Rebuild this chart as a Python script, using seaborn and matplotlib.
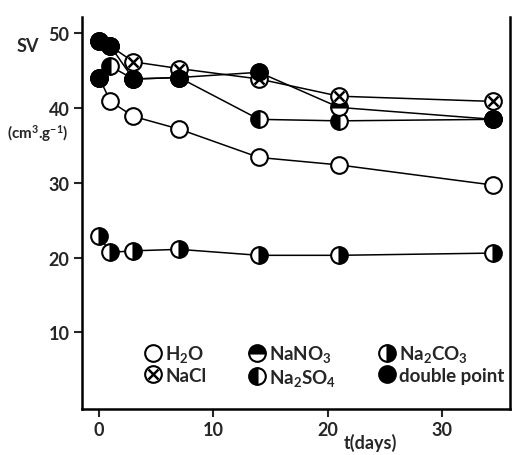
import matplotlib
matplotlib.use("Agg")
import matplotlib.pyplot as plt
import seaborn as sns
from matplotlib.lines import Line2D

# sampling days (last one is drawn a little short of 35)
days = [0, 1, 3, 7, 14, 21, 34.5]

# specific volume SV (cm3/g) per solution
sv_h2o = [44.1, 40.9, 38.9, 37.2, 33.4, 32.4, 29.7]
sv_nacl = [49.0, 48.3, 46.2, 45.3, 43.9, 41.6, 40.9]
sv_nano3 = [49.0, 48.3, 43.9, 44.1, 44.8, 40.1, 38.5]
sv_na2so4 = [44.1, 45.6, 43.9, 44.1, 38.5, 38.3, 38.5]
sv_na2co3 = [22.9, 20.7, 20.9, 21.1, 20.3, 20.3, 20.6]

# coinciding points, drawn solid
double_days = [0, 1, 0, 3, 7, 14, 34.5]
double_sv = [49.0, 48.3, 44.1, 43.9, 44.1, 44.8, 38.5]

x_ticks = [0, 10, 20, 30]
y_ticks = [10, 20, 30, 40, 50]

sns.set_theme(style="ticks")
plt.rcParams["font.family"] = ["Lato", "DejaVu Sans"]
plt.rcParams["font.weight"] = "bold"
plt.rcParams["mathtext.default"] = "regular"

fig = plt.figure(figsize=(5.14, 4.56), dpi=100)
ax = fig.add_axes([82 / 514, 1 - 410 / 456, 428 / 514, 392 / 456])

MS = 12
MEW = 1.5
LW = 1.1


def draw_series(vals, fill, face):
    sns.lineplot(x=days, y=vals, ax=ax, color="black", lw=LW, marker="o",
                 ms=MS, mew=MEW, mec="black", mfc=face, fillstyle=fill,
                 markerfacecoloralt="white", sort=False, errorbar=None,
                 zorder=3)


draw_series(sv_h2o, "full", "white")
draw_series(sv_na2co3, "right", "black")
draw_series(sv_na2so4, "left", "black")
draw_series(sv_nano3, "top", "black")
draw_series(sv_nacl, "full", "white")
ax.plot(days, sv_nacl, ls="none", marker="x", ms=6.5, mew=1.8,
        color="black", zorder=4)

# double points on top
ax.plot(double_days, double_sv, ls="none", marker="o", ms=MS,
        mfc="black", mec="black", zorder=5)

ax.set_xlim(-1.49, 35.96)
ax.set_ylim(-0.27, 52.2)
ax.set_xticks(x_ticks)
ax.set_yticks(y_ticks)
ax.tick_params(labelsize=13, width=1.5, length=6, pad=3)
for lab in ax.get_xticklabels() + ax.get_yticklabels():
    lab.set_fontweight("bold")

sns.despine(ax=ax, top=True, right=False)
for s in ["left", "bottom", "right"]:
    ax.spines[s].set_linewidth(1.8)
    ax.spines[s].set_color("black")
ax.set_xlabel("")
ax.set_ylabel("")

fig.text(28 / 514, 1 - 46 / 456, "SV", fontsize=13, fontweight="bold",
         ha="center", va="center")
fig.text(38 / 514, 1 - 134 / 456, "(cm$^3$.g$^{-1}$)", fontsize=11,
         fontweight="bold", ha="center", va="center")
fig.text(370 / 514, 1 - 443 / 456, "t(days)", fontsize=13,
         fontweight="bold", ha="center", va="center")

# legend
lms = 12
h_h2o = Line2D([], [], ls="none", marker="o", ms=lms, mew=MEW, mec="black", mfc="white")
h_nacl = (Line2D([], [], ls="none", marker="o", ms=lms, mew=MEW, mec="black", mfc="white"),
          Line2D([], [], ls="none", marker="x", ms=6.5, mew=1.8, color="black"))
h_nano3 = Line2D([], [], ls="none", marker="o", ms=lms, mew=MEW, mec="black", mfc="black",
                 fillstyle="top", markerfacecoloralt="white")
h_na2so4 = Line2D([], [], ls="none", marker="o", ms=lms, mew=MEW, mec="black", mfc="black",
                  fillstyle="left", markerfacecoloralt="white")
h_na2co3 = Line2D([], [], ls="none", marker="o", ms=lms, mew=MEW, mec="black", mfc="black",
                  fillstyle="right", markerfacecoloralt="white")
h_double = Line2D([], [], ls="none", marker="o", ms=lms, mew=MEW, mec="black", mfc="black")

handles = [h_h2o, h_nacl, h_nano3, h_na2so4, h_na2co3, h_double]
labels = ["H$_2$O", "NaCl", "NaNO$_3$", "Na$_2$SO$_4$", "Na$_2$CO$_3$", "double point"]
leg = fig.legend(handles, labels, loc="upper left",
                 bbox_to_anchor=(136 / 514, 1 - 335 / 456), ncol=3,
                 frameon=False, handlelength=0.8, handletextpad=0.25,
                 columnspacing=2.3, labelspacing=0.12, borderpad=0,
                 prop={"size": 13.5, "weight": "bold"})

fig.savefig("out.png", dpi=100)
